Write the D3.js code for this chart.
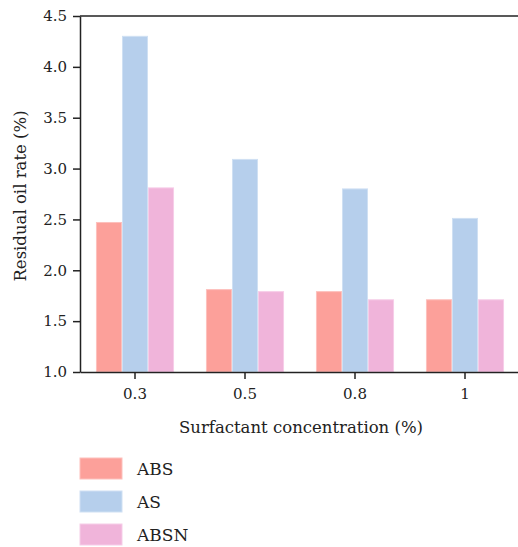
<!DOCTYPE html>
<html>
<head>
<meta charset="utf-8">
<script src="https://cdn.jsdelivr.net/npm/d3@7"></script>
<style>
  body { margin: 0; background: #fff; }
  svg { display: block; font-family: "DejaVu Serif", "Liberation Serif", serif; }
  .axis text { font-size: 15px; fill: #222; font-family: "DejaVu Serif", serif; }
  .axis path, .axis line { stroke: #222; stroke-width: 1.5; }
</style>
</head>
<body>
<div id="chart"></div>
<script>
// chart data
const concentrations = ["0.3", "0.5", "0.8", "1"];
const seriesNames = ["ABS", "AS", "ABSN"];
const absValues = [2.47, 1.81, 1.79, 1.71];
const asValues = [4.30, 3.09, 2.80, 2.51];
const absnValues = [2.81, 1.79, 1.71, 1.71];
const yTicks = [1.0, 1.5, 2.0, 2.5, 3.0, 3.5, 4.0, 4.5];
const colors = ["#fca09a", "#b6cfec", "#f0b4da"];
const strokes = ["#fdc0bc", "#cfe0f3", "#f6cde8"];

const width = 518, height = 547;
const margin = { top: 16, right: -2, bottom: 175, left: 80 };
const innerW = width - margin.left - margin.right;
const innerH = height - margin.top - margin.bottom;

const svg = d3.select("#chart").append("svg")
    .attr("width", width)
    .attr("height", height);

const g = svg.append("g")
    .attr("transform", `translate(${margin.left},${margin.top})`);

const xScale = d3.scaleBand().domain(concentrations).range([0, innerW]).paddingInner(0.29).paddingOuter(0.145);
const xSub = d3.scaleBand().domain(seriesNames).range([0, xScale.bandwidth()]);
const yScale = d3.scaleLinear().domain([1.0, 4.5]).range([innerH, 0]);

const rows = concentrations.map((c, i) => ({
    cat: c,
    vals: [absValues[i], asValues[i], absnValues[i]]
}));

// bars
const groups = g.selectAll(".grp")
    .data(rows)
    .enter().append("g")
    .attr("class", "grp")
    .attr("transform", d => `translate(${xScale(d.cat)},0)`);

groups.selectAll("rect")
    .data(d => d.vals.map((v, j) => ({ name: seriesNames[j], v: v, j: j })))
    .enter().append("rect")
    .attr("x", d => xSub(d.name) + 0.5)
    .attr("y", d => yScale(d.v))
    .attr("width", xSub.bandwidth() - 1)
    .attr("height", d => innerH - yScale(d.v))
    .attr("fill", d => colors[d.j])
    .attr("stroke", d => strokes[d.j])
    .attr("stroke-width", 1);

// top border line
g.append("line")
    .attr("x1", 0).attr("x2", innerW)
    .attr("y1", 0).attr("y2", 0)
    .attr("stroke", "#222").attr("stroke-width", 1.5);

// axes
g.append("g")
    .attr("class", "axis")
    .attr("transform", `translate(0,${innerH})`)
    .call(d3.axisBottom(xScale).tickSize(7).tickPadding(9).tickSizeOuter(0));

g.append("g")
    .attr("class", "axis")
    .call(d3.axisLeft(yScale).tickValues(yTicks).tickFormat(d3.format(".1f")).tickSize(7).tickPadding(6).tickSizeOuter(0));

// axis titles
g.append("text")
    .attr("x", 221)
    .attr("y", innerH + 61)
    .attr("text-anchor", "middle")
    .attr("font-size", 16.5)
    .attr("fill", "#222")
    .text("Surfactant concentration (%)");

g.append("text")
    .attr("transform", `translate(${-54},${innerH / 2 + 2}) rotate(-90)`)
    .attr("text-anchor", "middle")
    .attr("font-size", 16.5)
    .attr("fill", "#222")
    .text("Residual oil rate (%)");

// legend
const legend = svg.append("g").attr("transform", "translate(80,458)");
const items = legend.selectAll(".item")
    .data(seriesNames)
    .enter().append("g")
    .attr("class", "item")
    .attr("transform", (d, i) => `translate(0,${i * 33})`);

items.append("rect")
    .attr("width", 42)
    .attr("height", 21)
    .attr("fill", (d, i) => colors[i])
    .attr("stroke", (d, i) => strokes[i]);

items.append("text")
    .attr("x", 57)
    .attr("y", 17)
    .attr("font-size", 17)
    .attr("fill", "#222")
    .text(d => d);
</script>
</body>
</html>
